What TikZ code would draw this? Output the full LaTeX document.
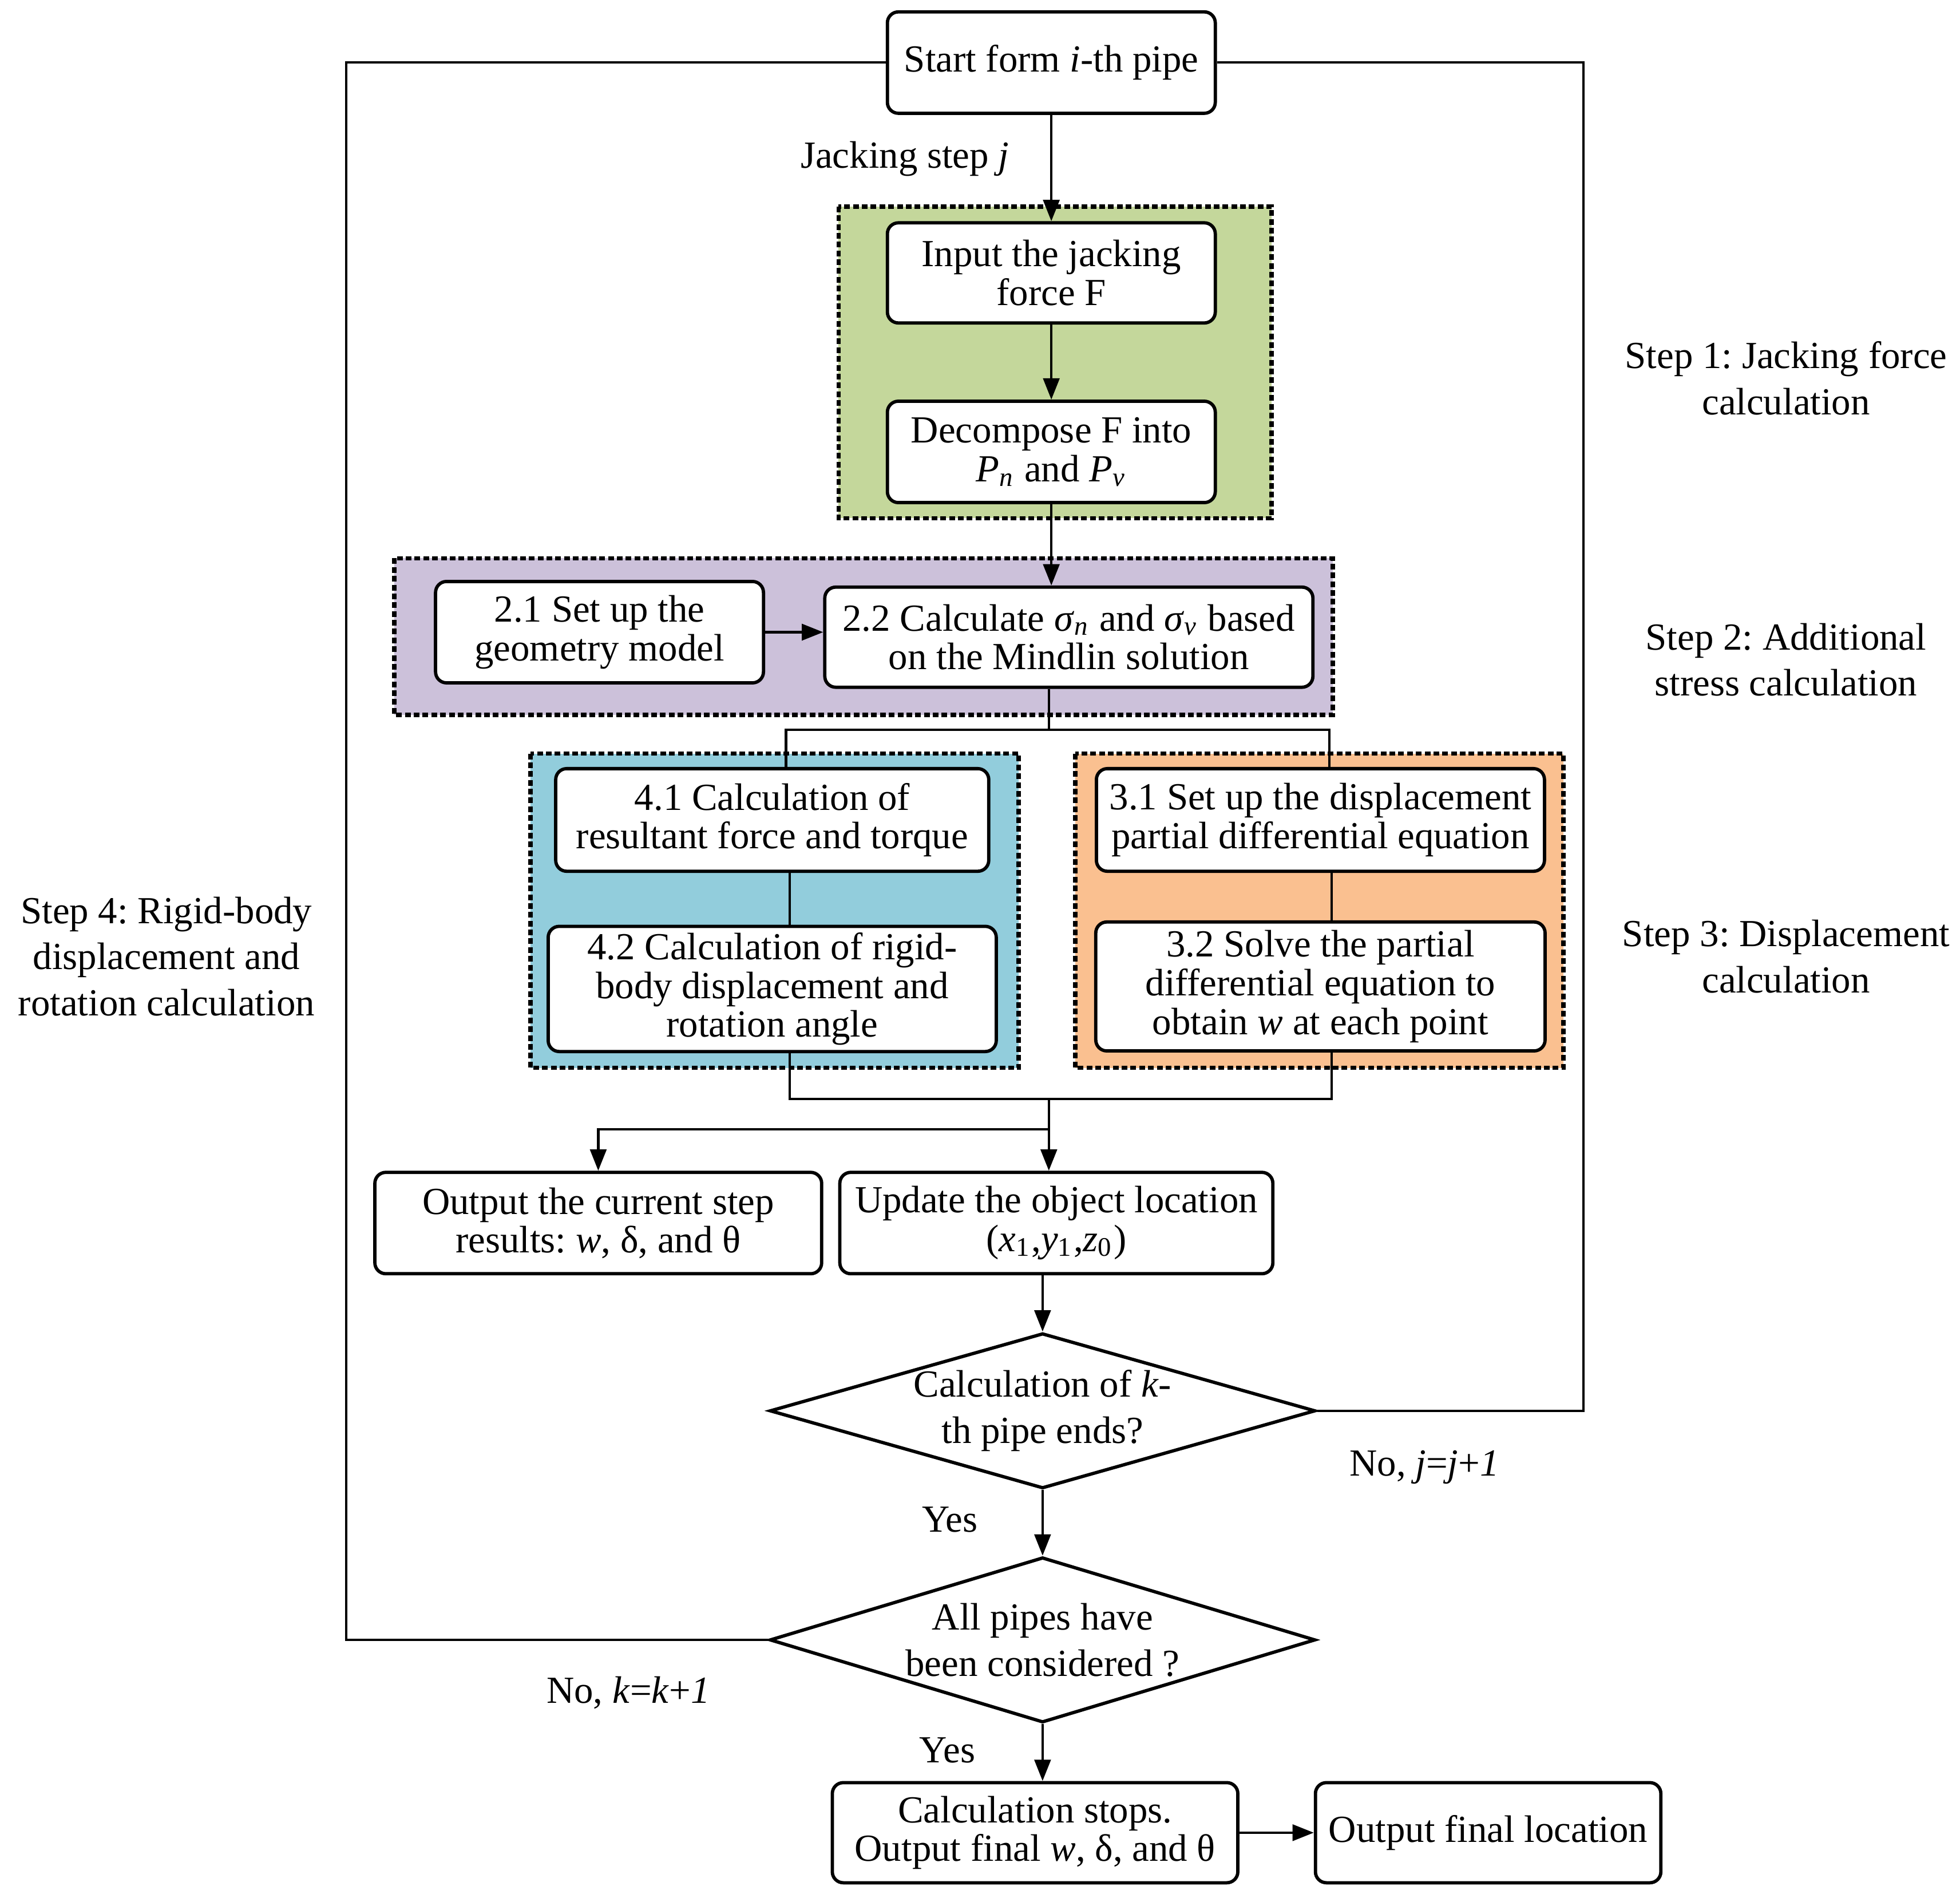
\documentclass[tikz,border=0pt]{standalone}
\usepackage{fontspec}
\setmainfont{Liberation Serif}
\usepackage{tikz}
\usetikzlibrary{arrows.meta,shapes.geometric}
\definecolor{grn}{HTML}{C4D79B}
\definecolor{prp}{HTML}{CCC1DA}
\definecolor{blu}{HTML}{92CDDC}
\definecolor{org}{HTML}{FAC090}
\tikzset{
  blk/.style={draw=black, line width=0.75pt, rounded corners=2.5pt, fill=white, align=center, inner sep=1pt, font=\fontsize{8.7}{8.8}\selectfont},
  dia/.style={diamond, draw=black, line width=0.75pt, fill=white, aspect=3.5, inner sep=0pt, align=center, font=\fontsize{8.7}{10.5}\selectfont, minimum width=4.36cm},
  grp/.style={draw=black, line width=1pt, dash pattern=on 1.3pt off 0.7pt},
  con/.style={draw=black, line width=0.55pt},
  arr/.style={con, -{Triangle[length=1.7mm,width=1.3mm]}},
  lab/.style={align=center, font=\fontsize{8.7}{10.5}\selectfont},
}
\frenchspacing
\begin{document}
\begin{tikzpicture}
  \useasboundingbox (0,0) rectangle (15.66,-15.16);
  % step groups
  \draw[grp, fill=grn] (6.70,-1.65) rectangle (10.16,-4.14);
  \draw[grp, fill=prp] (3.15,-4.46) rectangle (10.65,-5.71);
  \draw[grp, fill=blu] (4.24,-6.02) rectangle (8.14,-8.53);
  \draw[grp, fill=org] (8.59,-6.02) rectangle (12.49,-8.53);
  % boxes
  \node[blk, minimum width=2.62cm, minimum height=0.81cm] (start) at (8.40,-0.50) {Start form \textit{i}-th pipe};
  \node[blk, minimum width=2.62cm, minimum height=0.80cm] (input) at (8.40,-2.18) {Input the jacking\\force F};
  \node[blk, minimum width=2.62cm, minimum height=0.81cm] (decomp) at (8.40,-3.61) {Decompose F into\\\textit{P}\textsubscript{\textit{n}} and \textit{P}\textsubscript{\textit{v}}};
  \node[blk, minimum width=2.62cm, minimum height=0.81cm] (s21) at (4.79,-5.05) {2.1 Set up the\\geometry model};
  \node[blk, minimum width=3.90cm, minimum height=0.80cm] (s22) at (8.54,-5.09) {2.2 Calculate \textit{σ}\textsubscript{\textit{n}} and \textit{σ}\textsubscript{\textit{v}} based\\on the Mindlin solution};
  \node[blk, minimum width=3.46cm, minimum height=0.82cm] (s41) at (6.17,-6.55) {4.1 Calculation of\\resultant force and torque};
  \node[blk, minimum width=3.58cm, minimum height=1.00cm] (s42) at (6.17,-7.90) {4.2 Calculation of rigid-\\body displacement and\\rotation angle};
  \node[blk, minimum width=3.58cm, minimum height=0.82cm] (s31) at (10.55,-6.55) {3.1 Set up the displacement\\partial differential equation};
  \node[blk, minimum width=3.59cm, minimum height=1.03cm] (s32) at (10.55,-7.88) {3.2 Solve the partial\\differential equation to\\obtain \textit{w} at each point};
  \node[blk, minimum width=3.57cm, minimum height=0.81cm] (outcur) at (4.78,-9.77) {Output the current step\\results: \textit{w}, δ, and θ};
  \node[blk, minimum width=3.46cm, minimum height=0.81cm] (update) at (8.44,-9.77) {Update the object location\\(\textit{x}\textsubscript{1},\textit{y}\textsubscript{1},\textit{z}\textsubscript{0})};
  \node[dia, minimum height=1.24cm] (dia1) at (8.33,-11.27) {Calculation of \textit{k}-\\th pipe ends?};
  \node[dia, minimum height=1.32cm] (dia2) at (8.33,-13.10) {All pipes have\\been considered ?};
  \node[blk, minimum width=3.24cm, minimum height=0.80cm] (stop) at (8.27,-14.64) {Calculation stops.\\Output final \textit{w}, δ, and θ};
  \node[blk, minimum width=2.76cm, minimum height=0.80cm] (final) at (11.89,-14.64) {Output final location};
  % labels
  \node[lab] (jstep) at (7.23,-1.27) {Jacking step \textit{j}};
  \node[lab] (nojj) at (11.38,-11.72) {No, \textit{j}=\textit{j}+\textit{1}};
  \node[lab] (nokk) at (5.02,-13.52) {No, \textit{k}=\textit{k}+\textit{1}};
  \node[lab] (yes1) at (7.59,-12.14) {Yes};
  \node[lab] (yes2) at (7.57,-13.98) {Yes};
  \node[lab] (step1) at (14.27,-3.02) {Step 1: Jacking force\\calculation};
  \node[lab] (step2) at (14.27,-5.27) {Step 2: Additional\\stress calculation};
  \node[lab] (step3) at (14.27,-7.64) {Step 3: Displacement\\calculation};
  \node[lab] (step4) at (1.33,-7.64) {Step 4: Rigid-body\\displacement and\\rotation calculation};
  % connectors
  \coordinate (t41) at (6.28,-5.83);
  \coordinate (t31) at (10.62,-5.83);
  \coordinate (c4) at (6.31,-8.78);
  \coordinate (c3) at (10.64,-8.78);
  \coordinate (mj) at (8.38,-8.78);
  \coordinate (br) at (8.38,-9.02);
  \draw[arr] (start) -- (input);
  \draw[arr] (input) -- (decomp);
  \draw[arr] (decomp.south) -- (decomp.south |- s22.north);
  \draw[arr] (s21.east) -- (s21.east -| s22.west);
  \draw[con] (s22.south -| mj) -- (mj |- t41);
  \draw[con] (t41 |- s41.north) -- (t41) -- (t31) -- (t31 |- s31.north);
  \draw[con] (s41.south -| c4) -- (s42.north -| c4);
  \draw[con] (s31.south -| c3) -- (s32.north -| c3);
  \draw[con] (s42.south -| c4) -- (c4) -- (c3) -- (s32.south -| c3);
  \draw[arr] (mj) -- (mj |- update.north);
  \draw[arr] (br) -| (outcur.north);
  \draw[arr] (dia1.north |- update.south) -- (dia1.north);
  \draw[con] (dia1.east) -- ++(2.13,0) |- (start.east);
  \draw[arr] (dia1.south) -- (dia2.north);
  \draw[con] (dia2.west) -- ++(-3.37,0) |- (start.west);
  \draw[arr] (dia2.south) -- (dia2.south |- stop.north);
  \draw[arr] (stop) -- (final);
\end{tikzpicture}
\end{document}
